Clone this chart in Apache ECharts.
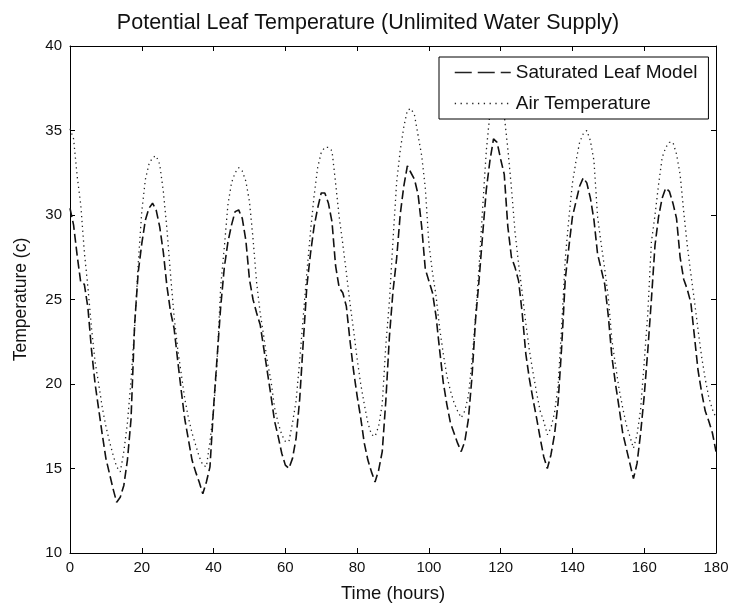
<!DOCTYPE html>
<html>
<head>
<meta charset="utf-8">
<script src="https://cdn.jsdelivr.net/npm/echarts@6/dist/echarts.min.js"></script>
<style>
  html, body { margin: 0; padding: 0; background: #fff; }
  #chart { width: 736px; height: 612px; }
</style>
</head>
<body>
<div id="chart"></div>
<script>
// Hourly samples, t = 0 … 180 h
const hourStep = 1;

// Saturated leaf model temperature (°C), one value per hour
const leafTemp = [
  30.4, 29.4, 27.6, 26.0, 25.9, 24.5, 22.0, 20.0, 18.5, 17.0,
  15.6, 14.7, 13.8, 13.0, 13.3, 14.0, 15.5, 17.9, 23.5, 26.6,
  28.3, 29.7, 30.4, 30.7, 30.3, 29.3, 27.8, 25.8, 24.3, 23.3,
  21.4, 19.6, 17.9, 16.7, 15.5, 14.8, 14.2, 13.5, 14.2, 15.1,
  18.6, 21.6, 24.6, 26.9, 28.4, 29.4, 30.2, 30.3, 29.8, 28.5,
  26.2, 25.0, 24.2, 23.5, 22.1, 20.7, 19.3, 17.8, 16.9, 15.9,
  15.2, 15.0, 15.6, 16.8, 19.1, 22.5, 25.8, 27.7, 29.3, 30.4,
  31.3, 31.3, 30.7, 29.6, 27.0, 25.7, 25.4, 24.6, 22.6, 20.8,
  19.3, 18.0, 16.5, 15.5, 14.8, 14.2, 14.9, 16.0, 19.0, 22.8,
  25.5, 27.4, 30.0, 31.7, 32.9, 32.5, 32.1, 31.2, 29.3, 26.8,
  26.1, 25.4, 24.0, 22.0, 20.1, 18.8, 17.7, 17.1, 16.5, 16.0,
  16.6, 17.9, 20.4, 23.8, 26.2, 28.9, 31.5, 33.2, 34.5, 34.3,
  33.3, 32.4, 29.3, 27.5, 26.9, 26.1, 24.2, 21.8, 20.3, 19.1,
  18.0, 16.8, 15.7, 15.0, 15.8, 17.0, 18.9, 22.2, 26.2, 28.1,
  29.9, 30.8, 31.7, 32.2, 31.9, 31.0, 29.7, 27.7, 26.8, 25.9,
  24.0, 21.6, 20.0, 18.6, 17.1, 16.2, 15.3, 14.4, 15.3, 17.1,
  19.3, 22.0, 25.0, 28.2, 29.9, 31.0, 31.6, 31.4, 30.7, 29.8,
  27.5, 26.2, 25.6, 24.8, 22.8, 20.8, 19.5, 18.4, 17.8, 17.1,
  16.0
];

// Air temperature (°C), one value per hour
const airTemp = [
  35.1, 34.5, 32.3, 30.6, 27.8, 25.7, 23.3, 21.3, 20.0, 18.6,
  17.5, 16.6, 15.8, 15.1, 14.8, 16.0, 17.7, 20.2, 23.3, 27.1,
  30.2, 32.1, 33.0, 33.4, 33.5, 33.0, 31.4, 29.2, 26.5, 24.0,
  22.1, 20.6, 19.1, 18.0, 17.1, 16.4, 15.7, 15.2, 15.1, 16.6,
  18.4, 21.4, 25.8, 28.1, 30.6, 31.9, 32.5, 32.8, 32.6, 32.0,
  30.8, 28.6, 26.0, 24.2, 22.8, 21.3, 20.2, 18.6, 17.7, 17.0,
  16.6, 16.6, 17.7, 19.0, 21.4, 24.0, 26.6, 29.0, 31.1, 32.8,
  33.7, 34.0, 34.0, 33.8, 31.9, 29.9, 28.3, 26.6, 24.8, 23.2,
  21.5, 20.0, 18.8, 17.7, 17.0, 16.9, 17.5, 18.8, 22.3, 24.9,
  28.5, 31.9, 33.8, 35.2, 36.2, 36.3, 35.9, 34.7, 33.5, 31.6,
  28.3, 26.6, 25.2, 23.3, 21.8, 20.5, 19.6, 18.9, 18.4, 18.0,
  18.4, 19.3, 21.3, 24.0, 27.0, 30.5, 33.8, 36.0, 37.0, 37.3,
  37.0, 35.9, 33.9, 31.6, 29.0, 27.1, 25.4, 23.6, 22.0, 20.7,
  19.5, 18.4, 17.8, 17.0, 17.4, 18.3, 19.9, 23.4, 27.4, 29.8,
  31.9, 33.2, 34.3, 34.8, 35.0, 34.4, 33.2, 29.9, 28.3, 26.8,
  25.1, 22.6, 21.1, 19.7, 18.6, 17.6, 16.9, 16.2, 17.0, 18.5,
  21.3, 24.2, 28.4, 30.0, 31.8, 33.4, 34.0, 34.3, 34.3, 33.6,
  32.4, 30.2, 28.2, 26.5, 24.9, 23.2, 21.6, 20.3, 19.2, 18.5,
  18.0
];

// Axis ranges and tick spacing
const xRange = [0, 180];
const xTickStep = 20;
const yRange = [10, 40];
const yTickStep = 5;

const seriesNames = ['Saturated Leaf Model', 'Air Temperature'];
const titleText = 'Potential Leaf Temperature (Unlimited Water Supply)';
const xName = 'Time (hours)';
const yName = 'Temperature (c)';

const toPairs = arr => arr.map((v, i) => [i * hourStep, v]);

const FONT = '"Liberation Sans", Arial, sans-serif';
const INK = '#000';
const TEXT = '#111';

const tickInside = { show: true, inside: true, length: 5, lineStyle: { color: INK, width: 1 } };
const frameLine = { show: true, onZero: false, lineStyle: { color: INK, width: 1 } };

// legend shows only the line sample, no marker
const hiddenMarker = { opacity: 0 };

const chart = echarts.init(document.getElementById('chart'), null, { renderer: 'canvas' });

chart.setOption({
  animation: false,
  backgroundColor: '#fff',
  title: {
    text: titleText,
    left: 'center',
    top: 7,
    textStyle: { fontFamily: FONT, fontSize: 21.5, fontWeight: 'normal', color: TEXT }
  },
  grid: { left: 70, top: 46, width: 646, height: 507, containLabel: false },
  legend: {
    left: 439,
    top: 57,
    orient: 'vertical',
    backgroundColor: '#fff',
    borderColor: INK,
    borderWidth: 1,
    borderRadius: 0,
    padding: [6, 11, 6, 15],
    itemGap: 12,
    itemWidth: 56,
    itemHeight: 18,
    z: 10,
    textStyle: { fontFamily: FONT, fontSize: 19, color: TEXT },
    data: [
      { name: seriesNames[0], itemStyle: hiddenMarker, lineStyle: { type: [17, 6], width: 1.5, color: '#222' } },
      { name: seriesNames[1], itemStyle: hiddenMarker, lineStyle: { type: [1.3, 4.5], width: 1.3, color: '#222' } }
    ]
  },
  xAxis: [
    {
      type: 'value', min: xRange[0], max: xRange[1], interval: xTickStep,
      position: 'bottom',
      axisLine: frameLine, axisTick: tickInside, splitLine: { show: false },
      axisLabel: { color: TEXT, fontFamily: FONT, fontSize: 15, margin: 7 },
      name: xName, nameLocation: 'middle', nameGap: 31,
      nameTextStyle: { color: TEXT, fontFamily: FONT, fontSize: 18.5 }
    },
    {
      type: 'value', min: xRange[0], max: xRange[1], interval: xTickStep,
      position: 'top',
      axisLine: frameLine, axisTick: tickInside, splitLine: { show: false },
      axisLabel: { show: false }
    }
  ],
  yAxis: [
    {
      type: 'value', min: yRange[0], max: yRange[1], interval: yTickStep,
      position: 'left',
      axisLine: frameLine, axisTick: tickInside, splitLine: { show: false },
      axisLabel: { color: TEXT, fontFamily: FONT, fontSize: 15, margin: 8 },
      name: yName, nameLocation: 'middle', nameGap: 40, nameRotate: 90,
      nameTextStyle: { color: TEXT, fontFamily: FONT, fontSize: 17.5 }
    },
    {
      type: 'value', min: yRange[0], max: yRange[1], interval: yTickStep,
      position: 'right',
      axisLine: frameLine, axisTick: tickInside, splitLine: { show: false },
      axisLabel: { show: false }
    }
  ],
  series: [
    {
      name: seriesNames[0],
      type: 'line',
      data: toPairs(leafTemp),
      showSymbol: false,
      symbol: 'none',
      smooth: false,
      z: 3,
      itemStyle: { color: '#111' },
      lineStyle: { color: '#111', width: 1.6, type: [9, 4] }
    },
    {
      name: seriesNames[1],
      type: 'line',
      data: toPairs(airTemp),
      showSymbol: false,
      symbol: 'none',
      smooth: false,
      z: 2,
      itemStyle: { color: '#222' },
      lineStyle: { color: '#222', width: 1.3, type: [1.3, 3.6] }
    }
  ]
});
</script>
</body>
</html>
